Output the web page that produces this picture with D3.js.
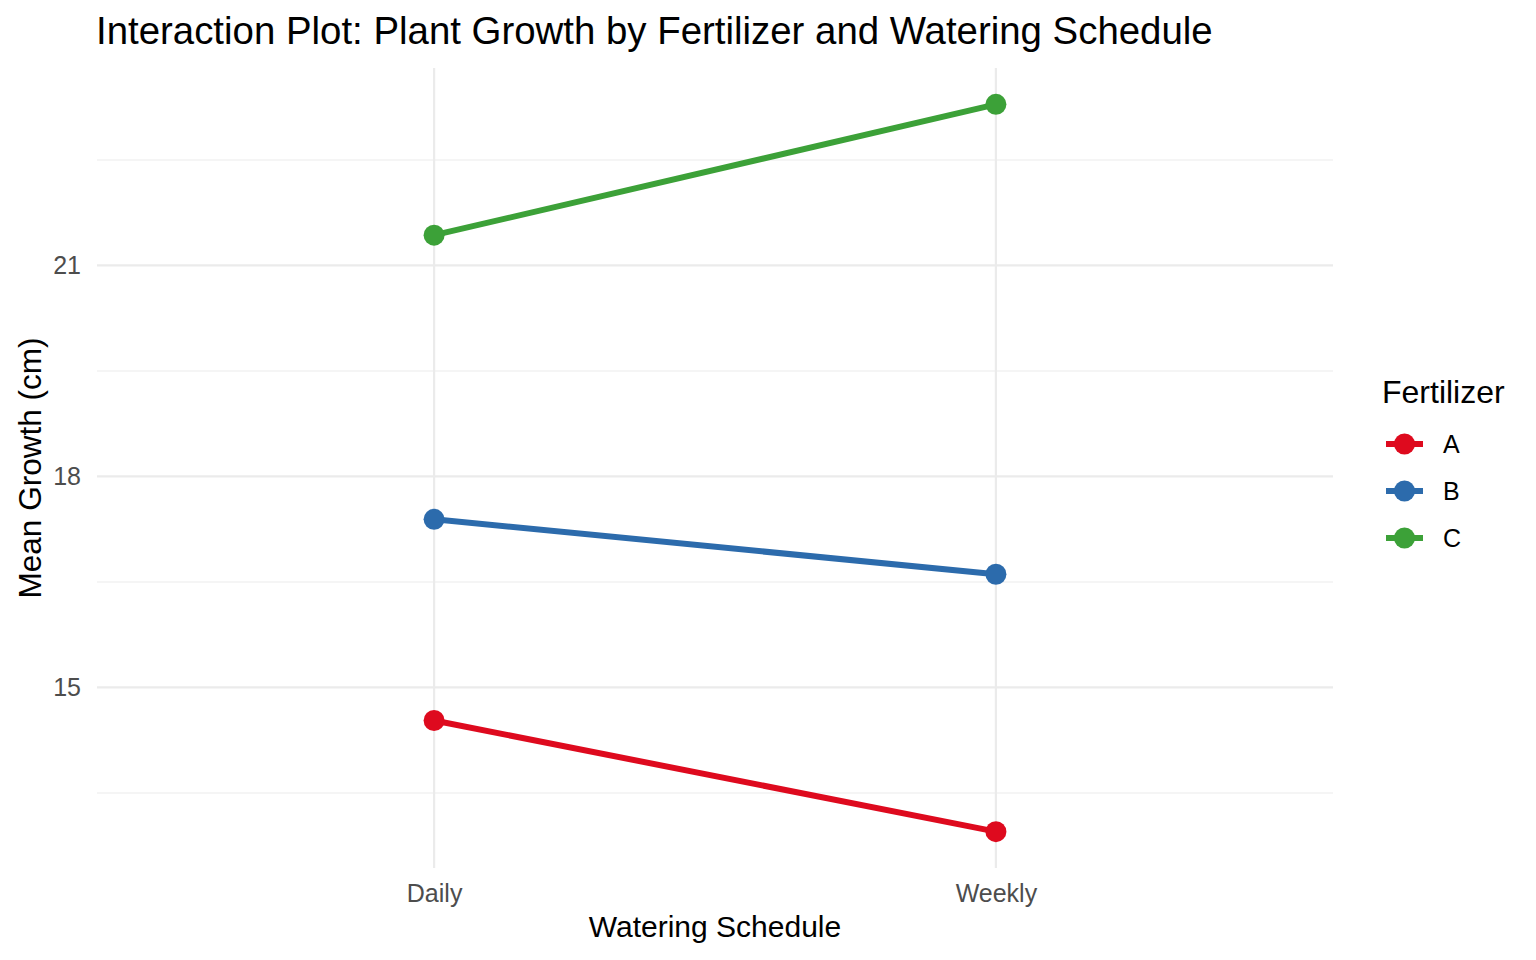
<!DOCTYPE html>
<html>
<head>
<meta charset="utf-8">
<script src="https://cdn.jsdelivr.net/npm/d3@7"></script>
<style>
  body { margin: 0; background: #fff; }
  svg { font-family: "Liberation Sans", Arial, sans-serif; }
</style>
</head>
<body>
<svg id="chart" width="1536" height="960"></svg>
<script>
// data
var schedules = ["Daily", "Weekly"];
var fertilizers = ["A", "B", "C"];
var growthA = [14.53, 12.95];
var growthB = [17.39, 16.61];
var growthC = [21.43, 23.29];
var yTicks = [15, 18, 21];
var yMinor = [13.5, 16.5, 19.5, 22.5];
var colours = ["#DE0A1E", "#2C6BAC", "#3CA138"];

var series = [
  { key: "A", values: growthA },
  { key: "B", values: growthB },
  { key: "C", values: growthC }
];

var svg = d3.select("#chart");
var pLeft = 97, pRight = 1333, pTop = 68, pBottom = 868;

// discrete x with ggplot's 0.6 expansion
var x = d3.scaleLinear().domain([0.4, 2.6]).range([pLeft, pRight]);
var all = growthA.concat(growthB, growthC);
var lo = d3.min(all), hi = d3.max(all), pad = (hi - lo) * 0.05;
var y = d3.scaleLinear().domain([lo - pad, hi + pad]).range([pBottom, pTop]);

var colour = d3.scaleOrdinal().domain(fertilizers).range(colours);

// grid
svg.append("g").selectAll("line").data(yMinor).enter().append("line")
  .attr("x1", pLeft).attr("x2", pRight)
  .attr("y1", function (d) { return y(d); }).attr("y2", function (d) { return y(d); })
  .attr("stroke", "#EBEBEB").attr("stroke-width", 1.1);
svg.append("g").selectAll("line").data(yTicks).enter().append("line")
  .attr("x1", pLeft).attr("x2", pRight)
  .attr("y1", function (d) { return y(d); }).attr("y2", function (d) { return y(d); })
  .attr("stroke", "#EBEBEB").attr("stroke-width", 2.2);
svg.append("g").selectAll("line").data(schedules).enter().append("line")
  .attr("x1", function (d, i) { return x(i + 1); }).attr("x2", function (d, i) { return x(i + 1); })
  .attr("y1", pTop).attr("y2", pBottom)
  .attr("stroke", "#EBEBEB").attr("stroke-width", 2.2);

// lines and points
var line = d3.line()
  .x(function (d, i) { return x(i + 1); })
  .y(function (d) { return y(d); });

var groups = svg.append("g").selectAll("g").data(series).enter().append("g");
groups.append("path")
  .attr("d", function (d) { return line(d.values); })
  .attr("fill", "none")
  .attr("stroke", function (d) { return colour(d.key); })
  .attr("stroke-width", 6);
groups.selectAll("circle").data(function (d) {
    return d.values.map(function (v, i) { return { key: d.key, v: v, i: i }; });
  }).enter().append("circle")
  .attr("cx", function (d) { return x(d.i + 1); })
  .attr("cy", function (d) { return y(d.v); })
  .attr("r", 10.5)
  .attr("fill", function (d) { return colour(d.key); });

// axes (text only, theme_minimal)
var yAxis = svg.append("g").attr("transform", "translate(" + pLeft + ",0)")
  .call(d3.axisLeft(y).tickValues(yTicks).tickSize(0).tickPadding(16));
var xAxis = svg.append("g").attr("transform", "translate(0," + pBottom + ")")
  .call(d3.axisBottom(x).tickValues([1, 2]).tickSize(0).tickPadding(16)
    .tickFormat(function (d) { return schedules[d - 1]; }));
[yAxis, xAxis].forEach(function (a) {
  a.select(".domain").remove();
  a.attr("font-size", null).attr("font-family", null);
  a.selectAll("text").attr("font-size", 25).attr("fill", "#4D4D4D");
});

// titles
svg.append("text").attr("x", pLeft - 1).attr("y", 44)
  .attr("font-size", 38.4).attr("fill", "#000")
  .text("Interaction Plot: Plant Growth by Fertilizer and Watering Schedule");
svg.append("text").attr("x", (pLeft + pRight) / 2).attr("y", 937)
  .attr("text-anchor", "middle").attr("font-size", 30).attr("fill", "#000")
  .text("Watering Schedule");
svg.append("text")
  .attr("transform", "translate(41," + ((pTop + pBottom) / 2) + ") rotate(-90)")
  .attr("text-anchor", "middle").attr("font-size", 31.5).attr("fill", "#000")
  .text("Mean Growth (cm)");

// legend
var legend = svg.append("g").attr("transform", "translate(1382,0)");
legend.append("text").attr("x", 0).attr("y", 403)
  .attr("font-size", 32).attr("fill", "#000").text("Fertilizer");
var keys = legend.selectAll(".key").data(fertilizers).enter().append("g")
  .attr("class", "key")
  .attr("transform", function (d, i) { return "translate(0," + (444 + i * 47) + ")"; });
keys.append("line").attr("x1", 4).attr("x2", 41).attr("y1", 0).attr("y2", 0)
  .attr("stroke", function (d) { return colour(d); }).attr("stroke-width", 6);
keys.append("circle").attr("cx", 22.5).attr("cy", 0).attr("r", 10.5)
  .attr("fill", function (d) { return colour(d); });
keys.append("text").attr("x", 61).attr("y", 0).attr("dy", "0.35em")
  .attr("font-size", 25).attr("fill", "#000").text(function (d) { return d; });
</script>
</body>
</html>
